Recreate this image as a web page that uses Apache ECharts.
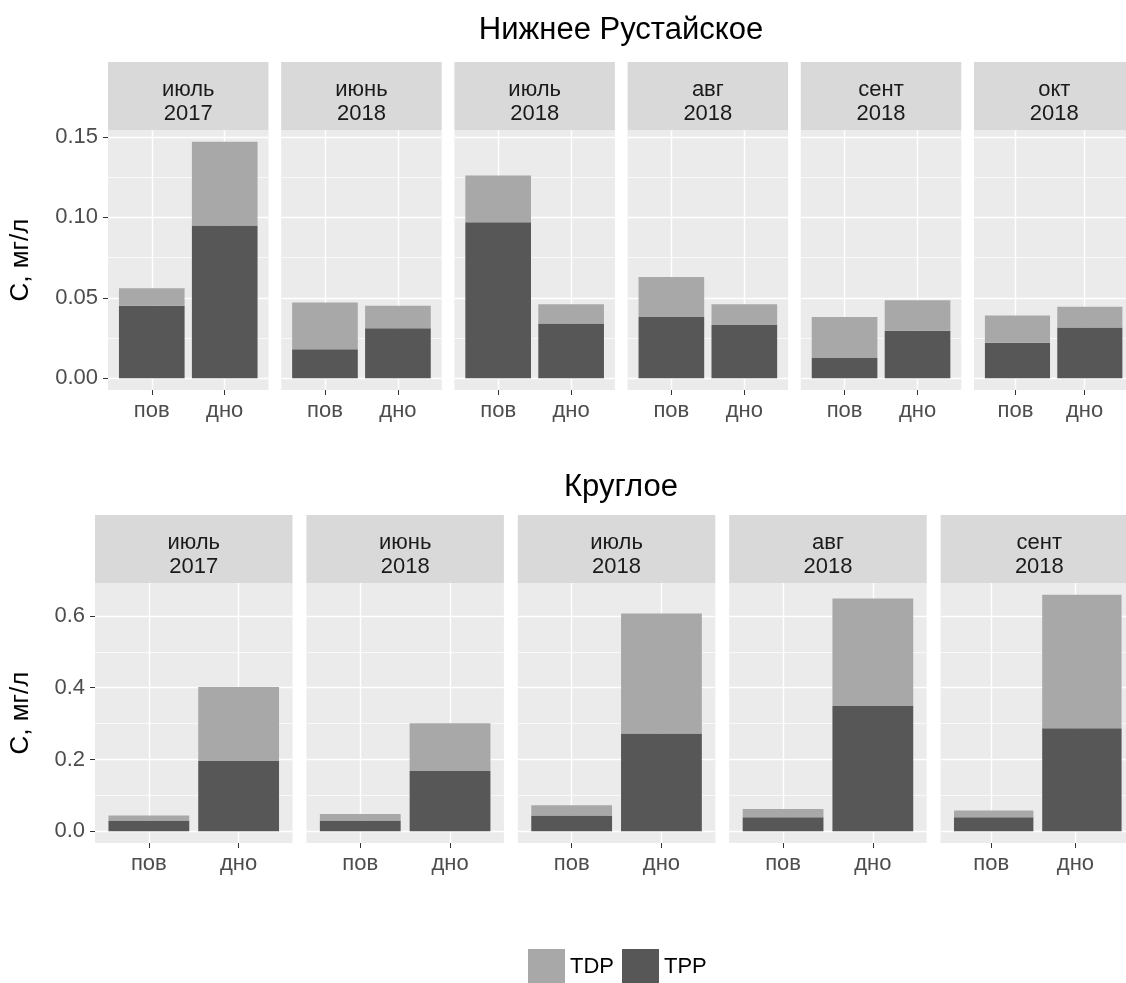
<!DOCTYPE html>
<html>
<head>
<meta charset="utf-8">
<script src="https://cdn.jsdelivr.net/npm/echarts@6/dist/echarts.min.js"></script>
<style>
  html, body { margin: 0; background: #fff; }
  #chart { width: 1126px; height: 983px; }
</style>
</head>
<body>
<div id="chart"></div>
<script>
const stations = ['пов', 'дно']

// Нижнее Рустайское
const topMonths = ['июль', 'июнь', 'июль', 'авг', 'сент', 'окт']
const topYears = ['2017', '2018', '2018', '2018', '2018', '2018']
const topTPP = [[0.045, 0.095], [0.018, 0.031], [0.097, 0.034], [0.038, 0.033], [0.0125, 0.0295], [0.022, 0.0315]]
const topTDP = [[0.011, 0.052], [0.029, 0.014], [0.029, 0.012], [0.025, 0.013], [0.0255, 0.019], [0.017, 0.013]]
const topTicks = [0, 0.05, 0.1, 0.15]
const topMinor = [0.025, 0.075, 0.125]

// Круглое
const botMonths = ['июль', 'июнь', 'июль', 'авг', 'сент']
const botYears = ['2017', '2018', '2018', '2018', '2018']
const botTPP = [[0.030, 0.196], [0.030, 0.168], [0.044, 0.272], [0.039, 0.349], [0.039, 0.287]]
const botTDP = [[0.014, 0.206], [0.018, 0.133], [0.028, 0.335], [0.023, 0.300], [0.019, 0.372]]
const botTicks = [0, 0.2, 0.4, 0.6]
const botMinor = [0.1, 0.3, 0.5]

const FONT = '"Liberation Sans", Arial, sans-serif'
const grid = [], xAxis = [], yAxis = [], series = [], title = [], graphic = []

function addPanel(p) {
  // ggplot: 5% expansion of the y range on both sides
  const ymax = Math.max(...p.tpp.map((d, i) => Math.max(d[0] + p.tdp[i][0], d[1] + p.tdp[i][1])))
  const lo = -0.05 * ymax
  const hi = 1.05 * ymax
  const h = p.panelBottom - p.panelTop
  const unit = p.w / 2.2 // discrete scale: 0.6 units of padding each side

  title.push({
    text: p.name, left: 621, top: p.titleTop, textAlign: 'center', padding: 0,
    textStyle: { fontFamily: FONT, fontSize: 31, fontWeight: 'normal', color: '#000' }
  })

  p.months.forEach((m, i) => {
    const left = p.left + i * p.step
    const first = i === 0
    // полоса с подписью фасета
    graphic.push({
      type: 'rect', silent: true,
      shape: { x: left, y: p.stripTop, width: p.w, height: p.panelTop - p.stripTop },
      style: { fill: '#d9d9d9' }
    })
    title.push({
      text: m + '\n' + p.years[i], left: left + p.w / 2, top: p.stripTop + 16,
      textAlign: 'center', padding: 0,
      textStyle: { fontFamily: FONT, fontSize: 22, lineHeight: 24, fontWeight: 'normal', color: '#1a1a1a' }
    })

    // фон панели, сетка, подписи осей
    const g = grid.length
    grid.push({
      left: left, top: p.panelTop, width: p.w, height: h,
      show: true, backgroundColor: '#ebebeb', borderWidth: 0
    })
    xAxis.push({
      gridIndex: g, type: 'value', min: 0.4, max: 2.6,
      axisLine: { show: false, onZero: false },
      axisTick: { show: true, length: 5, customValues: [1, 2], lineStyle: { color: '#333' } },
      axisLabel: {
        customValues: [1, 2], margin: 10, fontFamily: FONT, fontSize: 22, color: '#4d4d4d',
        formatter: v => stations[Math.round(v) - 1]
      },
      splitLine: { show: true, lineStyle: { color: '#fff', width: 1.4 } }
    })
    yAxis.push({
      gridIndex: g, type: 'value', min: lo, max: hi,
      axisLine: { show: false },
      axisTick: { show: first, length: 5, customValues: p.ticks, lineStyle: { color: '#333' } },
      axisLabel: {
        show: first, customValues: p.ticks, margin: 10, fontFamily: FONT, fontSize: 22, color: '#4d4d4d',
        formatter: v => v.toFixed(p.dec)
      },
      splitLine: { show: true, lineStyle: { color: '#fff', width: 1.4 } },
      name: first ? 'С, мг/л' : '', nameLocation: 'middle', nameGap: p.left - 34,
      nameTextStyle: { fontFamily: FONT, fontSize: 26, color: '#000' }
    })
    // минорные линии сетки
    yAxis.push({
      gridIndex: g, type: 'value', min: lo, max: hi, position: 'left',
      axisLine: { show: false },
      axisTick: { show: false, customValues: p.minor },
      axisLabel: { show: false, customValues: p.minor },
      splitLine: { show: true, lineStyle: { color: '#fff', width: 0.7 } }
    })

    // столбцы: категориальная ось без отступов ggplot
    const b = grid.length
    grid.push({ left: left + 0.1 * unit, top: p.panelTop, width: 2 * unit, height: h })
    xAxis.push({ gridIndex: b, type: 'category', data: stations, show: false })
    const yb = yAxis.length
    yAxis.push({ gridIndex: b, type: 'value', min: lo, max: hi, show: false })
    series.push({
      name: 'TPP', type: 'bar', stack: 's' + b, xAxisIndex: b, yAxisIndex: yb, barWidth: '90%',
      itemStyle: { color: '#575757' },
      data: p.tpp[i]
    })
    series.push({
      name: 'TDP', type: 'bar', stack: 's' + b, xAxisIndex: b, yAxisIndex: yb, barWidth: '90%',
      itemStyle: { color: '#a8a8a8' },
      data: p.tdp[i]
    })
  })
}

addPanel({
  name: 'Нижнее Рустайское', titleTop: 15, months: topMonths, years: topYears,
  tpp: topTPP, tdp: topTDP, ticks: topTicks, minor: topMinor, dec: 2,
  left: 108, step: 173.2, w: 160.5, stripTop: 62, panelTop: 130, panelBottom: 390
})
addPanel({
  name: 'Круглое', titleTop: 472, months: botMonths, years: botYears,
  tpp: botTPP, tdp: botTDP, ticks: botTicks, minor: botMinor, dec: 1,
  left: 95, step: 211.4, w: 197.5, stripTop: 515, panelTop: 583, panelBottom: 843
})

const option = {
  animation: false,
  backgroundColor: '#fff',
  title: title,
  graphic: graphic,
  legend: {
    data: ['TDP', 'TPP'], left: 528, top: 949, padding: 0, icon: 'rect',
    itemWidth: 37, itemHeight: 35, itemGap: 8,
    textStyle: { fontFamily: FONT, fontSize: 22, color: '#000' }
  },
  grid: grid,
  xAxis: xAxis,
  yAxis: yAxis,
  series: series
}

const myChart = echarts.init(document.getElementById('chart'))
myChart.setOption(option, true)
window.addEventListener('resize', () => {
  myChart.resize()
})
</script>
</body>
</html>
